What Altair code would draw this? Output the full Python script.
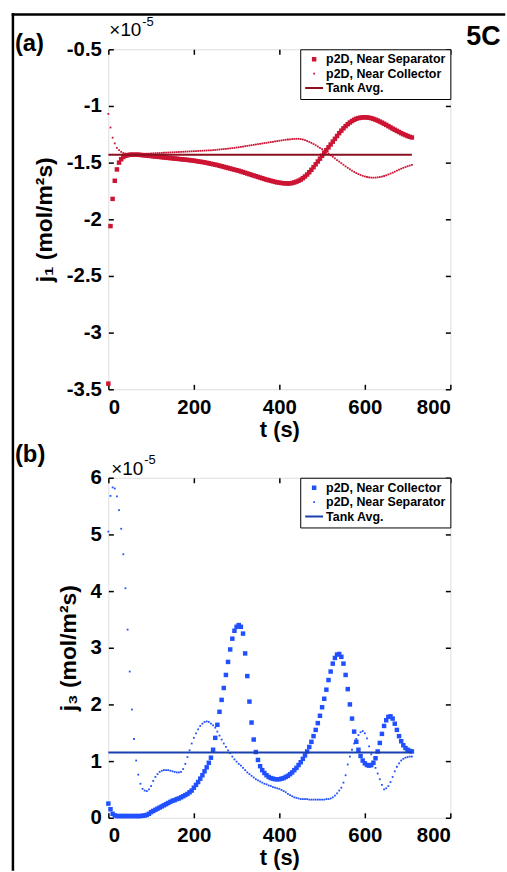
import altair as alt
import pandas as pd

# ---------------- data (values in units of 1e-5 mol/m^2 s) ----------------
t = list(range(0, 715, 5))  # time grid, s

# panel (a): j1
sep_a = [-3.45, -2.06, -1.82, -1.66, -1.56, -1.50, -1.47, -1.45, -1.44, -1.435,
         -1.43, -1.43, -1.43, -1.43, -1.43, -1.432, -1.434, -1.436, -1.438, -1.44,
         -1.442, -1.444, -1.446, -1.448, -1.45, -1.452, -1.454, -1.456, -1.458, -1.46,
         -1.462, -1.464, -1.466, -1.468, -1.47, -1.472, -1.474, -1.476, -1.478, -1.48,
         -1.483, -1.486, -1.489, -1.492, -1.495, -1.498, -1.502, -1.506, -1.51, -1.514,
         -1.518, -1.522, -1.527, -1.532, -1.537, -1.542, -1.547, -1.552, -1.557, -1.562,
         -1.567, -1.572, -1.578, -1.584, -1.59, -1.596, -1.602, -1.608, -1.614, -1.62,
         -1.626, -1.632, -1.638, -1.644, -1.65, -1.655, -1.66, -1.665, -1.67, -1.674,
         -1.677, -1.68, -1.682, -1.683, -1.684, -1.683, -1.68, -1.675, -1.668, -1.66,
         -1.65, -1.637, -1.622, -1.605, -1.585, -1.563, -1.54, -1.515, -1.49, -1.465,
         -1.44, -1.415, -1.39, -1.365, -1.34, -1.315, -1.29, -1.265, -1.24, -1.218,
         -1.197, -1.178, -1.161, -1.146, -1.133, -1.122, -1.113, -1.107, -1.103, -1.101,
         -1.1, -1.101, -1.104, -1.108, -1.114, -1.121, -1.129, -1.138, -1.147, -1.157,
         -1.167, -1.178, -1.189, -1.2, -1.21, -1.22, -1.23, -1.24, -1.249, -1.257,
         -1.265, -1.272, -1.278]
col_a = [-1.07, -1.19, -1.28, -1.33, -1.37, -1.39, -1.405, -1.415, -1.42, -1.425,
         -1.425, -1.425, -1.424, -1.424, -1.423, -1.423, -1.422, -1.422, -1.421, -1.42,
         -1.419, -1.418, -1.417, -1.416, -1.415, -1.414, -1.413, -1.412, -1.411, -1.41,
         -1.409, -1.408, -1.407, -1.406, -1.405, -1.404, -1.403, -1.402, -1.401, -1.40,
         -1.399, -1.398, -1.397, -1.396, -1.395, -1.394, -1.393, -1.392, -1.391, -1.39,
         -1.388, -1.386, -1.384, -1.382, -1.38, -1.378, -1.376, -1.374, -1.372, -1.37,
         -1.367, -1.364, -1.361, -1.358, -1.355, -1.352, -1.349, -1.346, -1.343, -1.34,
         -1.337, -1.334, -1.331, -1.328, -1.325, -1.322, -1.319, -1.316, -1.313, -1.31,
         -1.307, -1.304, -1.301, -1.298, -1.296, -1.294, -1.292, -1.291, -1.29, -1.29,
         -1.292, -1.296, -1.302, -1.309, -1.317, -1.326, -1.336, -1.347, -1.358, -1.37,
         -1.382, -1.395, -1.408, -1.421, -1.435, -1.449, -1.463, -1.477, -1.491, -1.505,
         -1.519, -1.533, -1.546, -1.559, -1.571, -1.582, -1.592, -1.601, -1.609, -1.616,
         -1.622, -1.627, -1.63, -1.632, -1.633, -1.632, -1.63, -1.627, -1.623, -1.618,
         -1.612, -1.605, -1.597, -1.589, -1.58, -1.571, -1.562, -1.554, -1.546, -1.539,
         -1.532, -1.526, -1.52]

# panel (b): j3
col_b = [0.25, 0.15, 0.07, 0.04, 0.03, 0.03, 0.03, 0.03, 0.03, 0.03,
         0.03, 0.03, 0.03, 0.03, 0.03, 0.03, 0.035, 0.04, 0.05, 0.07,
         0.10, 0.12, 0.14, 0.16, 0.18, 0.20, 0.22, 0.24, 0.26, 0.28,
         0.30, 0.31, 0.33, 0.34, 0.36, 0.38, 0.40, 0.42, 0.45, 0.48,
         0.53, 0.58, 0.63, 0.69, 0.75, 0.82, 0.89, 0.97, 1.06, 1.2,
         1.41, 1.64, 1.87, 2.08, 2.29, 2.52, 2.75, 2.97, 3.16, 3.3,
         3.37, 3.4, 3.37, 3.25, 2.9, 2.5, 2.05, 1.68, 1.38, 1.16,
         1.02, 0.91, 0.84, 0.79, 0.75, 0.72, 0.7, 0.69, 0.68, 0.68,
         0.68, 0.69, 0.7, 0.72, 0.74, 0.77, 0.8, 0.84, 0.88, 0.93,
         0.98, 1.04, 1.1, 1.17, 1.25, 1.34, 1.44, 1.55, 1.67, 1.8,
         1.95, 2.1, 2.26, 2.43, 2.58, 2.72, 2.82, 2.88, 2.89, 2.84,
         2.72, 2.52, 2.27, 2.0, 1.75, 1.52, 1.34, 1.2, 1.09, 1.01,
         0.96, 0.93, 0.92, 0.93, 0.97, 1.05, 1.17, 1.32, 1.48, 1.62,
         1.72, 1.78, 1.79, 1.75, 1.66, 1.55, 1.44, 1.35, 1.28, 1.23,
         1.2, 1.18, 1.17]
sep_b = [5.05, 5.68, 5.83, 5.81, 5.67, 5.43, 5.10, 4.65, 4.05, 3.32,
         2.58, 1.91, 1.39, 1.01, 0.76, 0.60, 0.51, 0.48, 0.47, 0.50,
         0.56, 0.65, 0.72, 0.77, 0.81, 0.83, 0.84, 0.84, 0.84, 0.83,
         0.82, 0.81, 0.80, 0.80, 0.81, 0.86, 0.95, 1.07, 1.19, 1.31,
         1.41, 1.49, 1.56, 1.62, 1.66, 1.69, 1.70, 1.69, 1.66, 1.63,
         1.59, 1.52, 1.45, 1.38, 1.31, 1.25, 1.19, 1.14, 1.08, 1.03,
         0.99, 0.95, 0.92, 0.88, 0.84, 0.80, 0.77, 0.74, 0.71, 0.68,
         0.66, 0.64, 0.62, 0.60, 0.59, 0.57, 0.56, 0.54, 0.53, 0.52,
         0.51, 0.49, 0.47, 0.45, 0.42, 0.40, 0.38, 0.36, 0.35, 0.34,
         0.33, 0.33, 0.33, 0.33, 0.32, 0.32, 0.32, 0.32, 0.32, 0.32,
         0.32, 0.32, 0.33, 0.33, 0.34, 0.36, 0.39, 0.43, 0.48, 0.53,
         0.62, 0.75, 0.94, 1.08, 1.2, 1.31, 1.39, 1.46, 1.51, 1.53,
         1.49, 1.4, 1.26, 1.12, 0.99, 0.88, 0.78, 0.68, 0.58, 0.5,
         0.52, 0.56, 0.63, 0.72, 0.82, 0.9, 0.96, 1.01, 1.04, 1.06,
         1.07, 1.08, 1.08]

tank_t = [0, 710]
tank_a = [-1.43, -1.43]
tank_b = [1.15, 1.15]

x_ticks = [0, 200, 400, 600, 800]
y_ticks_a = [-3.5, -3, -2.5, -2, -1.5, -1, -0.5]
y_ticks_b = [0, 1, 2, 3, 4, 5, 6]

names_a = ["p2D, Near Separator", "p2D, Near Collector", "Tank Avg."]
names_b = ["p2D, Near Collector", "p2D, Near Separator", "Tank Avg."]

FONT = "Liberation Sans"
W, H = 344, 342
SYM = 324  # symbol box: 18 px; shapes below are drawn inside it
SHAPES = ["M-0.25,-0.25H0.25V0.25H-0.25Z",      # filled square marker
          "M-0.1,-0.1H0.1V0.1H-0.1Z",            # small dot marker
          "M-1,0H1"]                             # line sample for the legend
TICKS = dict(domain=False, grid=False, ticks=True, tickSize=5, tickWidth=1.5,
             tickColor="black", offset=-5)


def one():
    return alt.Chart(alt.Data(values=[{}]))


def txt(s, x, y, size, weight="bold"):
    return one().mark_text(text=s, font=FONT, fontSize=size, fontWeight=weight,
                           align="left", baseline="middle", color="black").encode(
        x=alt.value(x), y=alt.value(y))


def panel(series, names, pt_color, line_color, tank_v, ydom, yticks, ytitle, extras):
    df = pd.DataFrame({"t": t + t, "v": series[0] + series[1],
                       "s": [names[0]] * len(t) + [names[1]] * len(t)})
    xs = alt.Scale(domain=[0, 800], nice=False)
    ys = alt.Scale(domain=ydom, nice=False, zero=False)
    leg = alt.Legend(title=None, orient="top-right", offset=0, strokeColor="black",
                     fillColor="white", padding=4, rowPadding=1.5,
                     clipHeight=12, symbolSize=SYM, symbolStrokeWidth=2,
                     labelFont=FONT, labelFontSize=12.5, labelFontWeight="bold",
                     labelColor="black", labelOffset=2)
    pts = alt.Chart(df).mark_point(filled=True, opacity=1, strokeWidth=2, size=SYM).encode(
        x=alt.X("t:Q", scale=xs, axis=alt.Axis(
            orient="bottom", values=x_ticks, title="t (s)", labelPadding=8,
            labelFont=FONT, labelFontSize=20.5, labelFontWeight="bold", labelColor="black",
            titleFont=FONT, titleFontSize=22, titleFontWeight="bold", titleColor="black",
            titlePadding=2, **TICKS)),
        y=alt.Y("v:Q", scale=ys, axis=alt.Axis(
            orient="left", values=yticks, title=ytitle, labelPadding=7,
            labelExpr="'' + datum.value",
            labelFont=FONT, labelFontSize=20.5, labelFontWeight="bold", labelColor="black",
            titleFont=FONT, titleFontSize=23, titleFontWeight="bold", titleColor="black",
            titlePadding=10, **TICKS)),
        fill=alt.Fill("s:N", scale=alt.Scale(domain=names, range=[pt_color, pt_color, "transparent"]), legend=leg),
        stroke=alt.Stroke("s:N", scale=alt.Scale(domain=names, range=["transparent", "transparent", line_color]), legend=leg),
        shape=alt.Shape("s:N", scale=alt.Scale(domain=names, range=SHAPES), legend=leg),
    )
    line = alt.Chart(pd.DataFrame({"t": tank_t, "v": tank_v})).mark_line(
        color=line_color, strokeWidth=2).encode(
        x=alt.X("t:Q", scale=xs, axis=alt.Axis(orient="top", values=x_ticks, labels=False, title=None, **TICKS)),
        y=alt.Y("v:Q", scale=ys, axis=alt.Axis(orient="right", values=yticks, labels=False, title=None, **TICKS)),
    )
    return alt.layer(pts, line, *extras).properties(width=W, height=H)


frame_v = one().mark_rule(color="black", strokeWidth=2.5, strokeCap="square").encode(
    x=alt.value(-96), y=alt.value(-35), y2=alt.value(825))
frame_h = one().mark_rule(color="black", strokeWidth=2.5, strokeCap="square").encode(
    x=alt.value(-96), x2=alt.value(398), y=alt.value(-35))

top = panel([sep_a, col_a], names_a, "#cc1433", "#8b1020", tank_a, [-3.5, -0.5], y_ticks_a,
            "j₁ (mol/m²s)",
            [txt("(a)", -94, -5, 24), txt("×10", 1, -19, 19, "normal"), txt("-5", 34, -27, 13, "normal"),
             txt("5C", 360, -12, 27), frame_v, frame_h])
bottom = panel([col_b, sep_b], names_b, "#2050ff", "#1a40b0", tank_b, [0, 6], y_ticks_b,
               "j₃ (mol/m²s)",
               [txt("(b)", -94, -23, 24), txt("×10", 3, -9, 19, "normal"), txt("-5", 36, -18, 13, "normal")])

chart = alt.vconcat(top, bottom, spacing=89, bounds="flush").resolve_scale(
    fill="independent", stroke="independent", shape="independent"
).properties(
    padding={"left": 10, "top": 9, "right": 0, "bottom": 0}
).configure_view(stroke="black", strokeWidth=2).configure(font=FONT, background="white")

chart.save("out.html", embed_options={"renderer": "svg", "actions": False})
